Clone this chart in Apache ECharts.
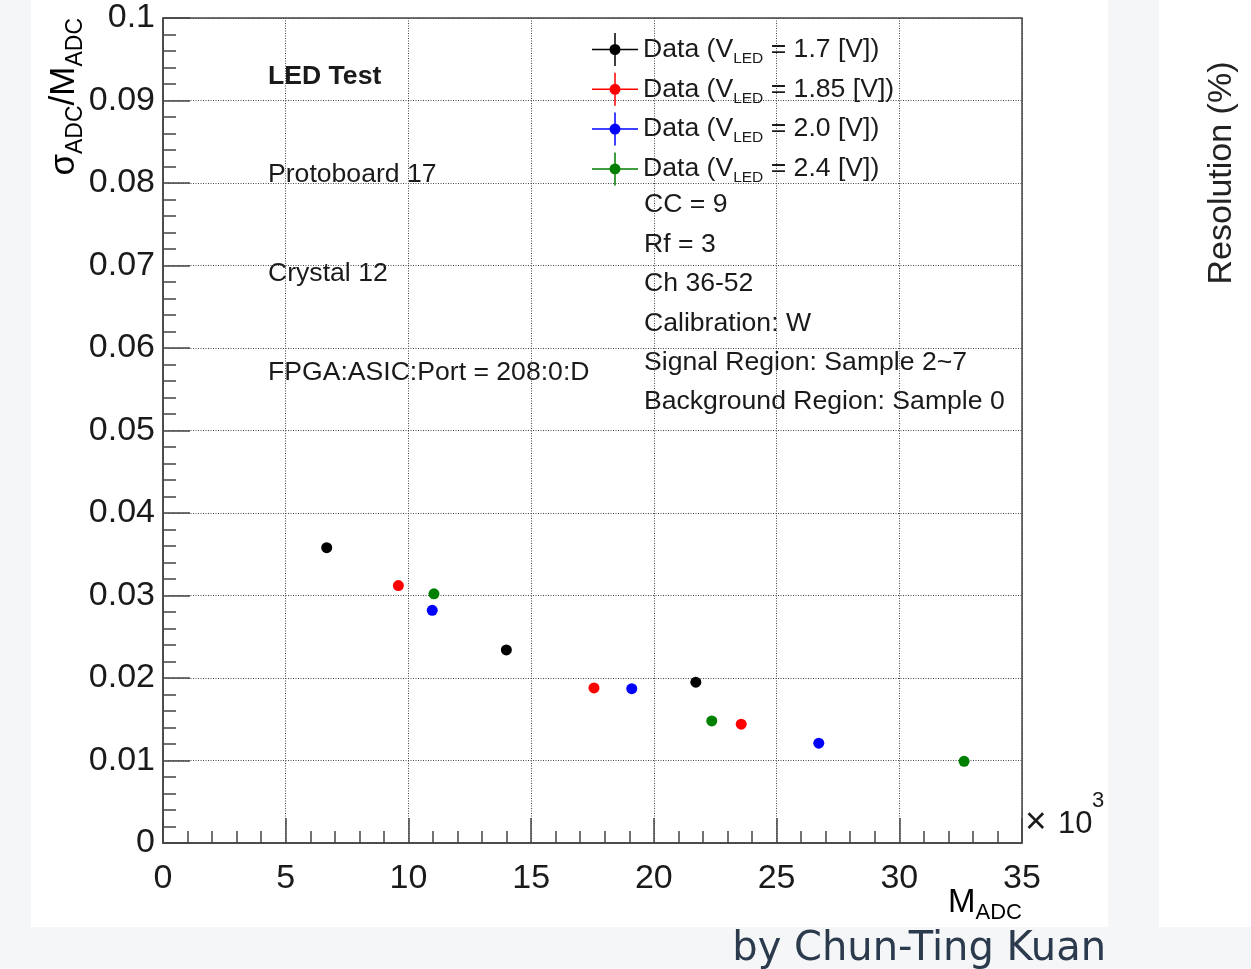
<!DOCTYPE html>
<html>
<head>
<meta charset="utf-8">
<script src="https://cdn.jsdelivr.net/npm/echarts@6/dist/echarts.min.js"></script>
<style>
html, body { margin: 0; padding: 0; background: #f5f6f8; }
#panel { position: absolute; left: 31px; top: 0; width: 1077px; height: 927px; background: #fff; }
#panel2 { position: absolute; left: 1159px; top: 0; width: 92px; height: 927px; background: #fff; }
#chart { position: absolute; left: 0; top: 0; width: 1251px; height: 969px; }
</style>
</head>
<body>
<div id="panel"></div>
<div id="panel2"></div>
<div id="chart"></div>
<script>
// LED test: sigma/M vs M for four LED voltages
var voltages = ['1.7', '1.85', '2.0', '2.4'];
var colors = ['#000000', '#ff0000', '#0000ff', '#008000'];

var madc17 = [6670, 13990, 21710];
var res17 = [0.0358, 0.0234, 0.0195];
var madc185 = [9590, 17560, 23560];
var res185 = [0.0312, 0.0188, 0.0144];
var madc20 = [10970, 19100, 26720];
var res20 = [0.0282, 0.0187, 0.0121];
var madc24 = [11040, 22360, 32640];
var res24 = [0.0302, 0.0148, 0.0099];

var xTicks = [0, 5, 10, 15, 20, 25, 30, 35];   // x 10^3
var infoLeft = ['LED Test', 'Protoboard 17', 'Crystal 12', 'FPGA:ASIC:Port = 208:0:D'];
var infoRight = ['CC = 9', 'Rf = 3', 'Ch 36-52', 'Calibration: W', 'Signal Region: Sample 2~7', 'Background Region: Sample 0'];

var FONT = "'Liberation Sans', Arial, sans-serif";
var xs = [madc17, madc185, madc20, madc24];
var ys = [res17, res185, res20, res24];

var series = voltages.map(function (v, i) {
    return {
        name: v,
        type: 'scatter',
        symbol: 'circle',
        symbolSize: 11,
        itemStyle: { color: colors[i], opacity: 1 },
        data: xs[i].map(function (x, j) { return [x, ys[i][j]]; })
    };
});

var graphics = [];
infoLeft.forEach(function (t, i) {
    graphics.push({
        type: 'text', x: 268, y: [77, 175, 274, 373][i],
        style: { text: t, font: (i === 0 ? 'bold ' : '') + '26.6px ' + FONT, fill: '#1a1a1a', verticalAlign: 'middle' }
    });
});
infoRight.forEach(function (t, i) {
    graphics.push({
        type: 'text', x: 644, y: 205 + i * 39.4,
        style: { text: t, font: '26.6px ' + FONT, fill: '#1a1a1a', verticalAlign: 'middle' }
    });
});
// y axis title
graphics.push({
    type: 'text', x: 64, y: 18, rotation: Math.PI / 2,
    style: {
        text: '{m|σ}{s|ADC}{m|/M}{s|ADC}',
        align: 'right', verticalAlign: 'middle',
        rich: {
            m: { fontSize: 35, fontFamily: FONT, color: '#1a1a1a' },
            s: { fontSize: 23, fontFamily: FONT, color: '#1a1a1a', padding: [24, 0, 0, 0] }
        }
    }
});
// x axis title
graphics.push({
    type: 'text', x: 1022, y: 903,
    style: {
        text: '{m|M}{s|ADC}',
        align: 'right', verticalAlign: 'middle',
        rich: {
            m: { fontSize: 33, fontFamily: FONT, color: '#1a1a1a' },
            s: { fontSize: 22, fontFamily: FONT, color: '#1a1a1a', padding: [20, 0, 0, 0] }
        }
    }
});
graphics.push({
    type: 'text', x: 1025, y: 823,
    style: { text: '×', font: '37px ' + FONT, fill: '#1a1a1a', verticalAlign: 'middle' }
});
graphics.push({
    type: 'text', x: 1058, y: 824,
    style: { text: '10', font: '31px ' + FONT, fill: '#1a1a1a', verticalAlign: 'middle' }
});
graphics.push({
    type: 'text', x: 1092, y: 801,
    style: { text: '3', font: '22px ' + FONT, fill: '#1a1a1a', verticalAlign: 'middle' }
});
// neighbouring panel label and credit
graphics.push({
    type: 'text', x: 1222, y: 173, rotation: Math.PI / 2,
    style: { text: 'Resolution (%)', font: '34px ' + FONT, fill: '#222', align: 'center', verticalAlign: 'middle' }
});
graphics.push({
    type: 'text', x: 1106, y: 950,
    style: { text: 'by Chun-Ting Kuan', font: "40px 'DejaVu Sans', sans-serif", fill: '#2b3a4c', align: 'right', verticalAlign: 'middle' }
});

var legendIcon = 'path://M0 15.75H46V17.25H0Z M22.25 0H23.75V33H22.25Z M17.5 16.5A5.5 5.5 0 1 1 28.5 16.5A5.5 5.5 0 1 1 17.5 16.5Z';

var chart = echarts.init(document.getElementById('chart'));
chart.setOption({
    animation: false,
    backgroundColor: 'transparent',
    grid: {
        left: 163, top: 18, width: 859, height: 825,
        show: true, backgroundColor: '#fff', borderColor: '#444', borderWidth: 1.5
    },
    legend: {
        orient: 'vertical', left: 592, top: 33, padding: 0,
        itemWidth: 46, itemHeight: 33, itemGap: 6.3,
        selectedMode: false, icon: legendIcon,
        data: voltages,
        formatter: function (name) {
            return '{t|Data (V}{s|LED}{t| = ' + name + ' [V])}';
        },
        textStyle: {
            rich: {
                t: { fontSize: 26.6, fontFamily: FONT, color: '#1a1a1a', lineHeight: 33 },
                s: { fontSize: 15.5, fontFamily: FONT, color: '#1a1a1a', padding: [18, 0, 0, 0] }
            }
        }
    },
    xAxis: {
        type: 'value', min: 0, max: 35000, interval: 5000,
        axisLine: { show: true, lineStyle: { color: '#444', width: 1.5 } },
        axisTick: { show: true, inside: true, length: 25, lineStyle: { color: '#444', width: 1.5 } },
        minorTick: { show: true, splitNumber: 5, length: 12, lineStyle: { color: '#444', width: 1.5 } },
        splitLine: { show: true, lineStyle: { color: '#444', width: 1, type: [1, 1.5] } },
        axisLabel: {
            margin: 19, fontSize: 34, fontFamily: FONT, color: '#1a1a1a',
            showMinLabel: true, showMaxLabel: true,
            formatter: function (v) { return String(xTicks[Math.round(v / 5000)]); }
        }
    },
    yAxis: {
        type: 'value', min: 0, max: 0.1, interval: 0.01,
        axisLine: { show: true, lineStyle: { color: '#444', width: 1.5 } },
        axisTick: { show: true, inside: true, length: 27, lineStyle: { color: '#444', width: 1.5 } },
        minorTick: { show: true, splitNumber: 5, length: 13, lineStyle: { color: '#444', width: 1.5 } },
        splitLine: { show: true, lineStyle: { color: '#444', width: 1, type: [1, 1.5] } },
        axisLabel: {
            margin: 8, fontSize: 34, fontFamily: FONT, color: '#1a1a1a',
            showMinLabel: true, showMaxLabel: true,
            formatter: function (v) { return String(+v.toFixed(2)); }
        }
    },
    graphic: graphics,
    series: series
});
</script>
</body>
</html>
